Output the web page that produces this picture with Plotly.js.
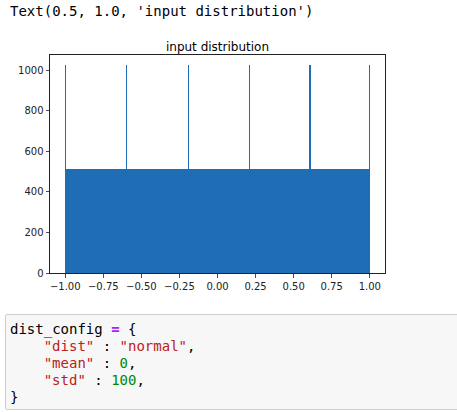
<!DOCTYPE html>
<html>
<head>
<meta charset="utf-8">
<script src="https://cdn.plot.ly/plotly-3.0.1.min.js"></script>
<style>
  html, body { margin:0; padding:0; background:#fff; width:457px; height:412px; overflow:hidden; }
  #out { position:absolute; left:10px; top:3px; font-family:"DejaVu Sans Mono", monospace; font-size:14px; color:#000; white-space:pre; line-height:17px; }
  #chart { position:absolute; left:0; top:0; width:457px; height:300px; }
  #cell { position:absolute; left:5px; top:314px; width:460px; height:96px; background:#f7f7f7; border:1px solid #cfcfcf; border-radius:2px; box-sizing:border-box; }
  .ln { position:absolute; left:10px; font-family:"DejaVu Sans Mono", monospace; font-size:14px; line-height:17px; height:17px; color:#000; white-space:pre; }
  .ind { left:43.7px; }
  .op { color:#AA22FF; font-weight:bold; }
  .s { color:#BA2121; }
  .n { color:#008800; }
</style>
</head>
<body>
<div id="out">Text(0.5, 1.0, 'input distribution')</div>
<div id="chart"></div>
<div id="cell"></div>
<div class="ln" style="top:321px;"><span>dist_config </span><span class="op">=</span><span> {</span></div>
<div class="ln ind" style="top:338px;"><span class="s">"dist"</span><span> : </span><span class="s">"normal"</span><span>,</span></div>
<div class="ln ind" style="top:355px;"><span class="s">"mean"</span><span> : </span><span class="n">0</span><span>,</span></div>
<div class="ln ind" style="top:372px;"><span class="s">"std"</span><span> : </span><span class="n">100</span><span>,</span></div>
<div class="ln" style="top:389px;"><span>}</span></div>
<script>
// Histogram flat segments (bin ranges and counts)
const segStart = [-1.0, -0.6, -0.2, 0.2, 0.6];
const segEnd   = [-0.6, -0.2, 0.2, 0.6, 1.0];
const segCount = [512, 512, 512, 512, 512];
// Spike bins (narrow bins with double count)
const spikeLeft  = [-1.0, -0.599, -0.197, 0.205, 0.603, 0.993];
const spikeRight = [-0.993, -0.592, -0.190, 0.212, 0.616, 1.0];
const spikeCount = [1024, 1024, 1024, 1024, 1024, 1024];
// Tick labels
const xTickVals = [-1.0, -0.75, -0.5, -0.25, 0.0, 0.25, 0.5, 0.75, 1.0];
const xTickText = ["\u22121.00", "\u22120.75", "\u22120.50", "\u22120.25", "0.00", "0.25", "0.50", "0.75", "1.00"];
const yTickVals = [0, 200, 400, 600, 800, 1000];
const yTickText = ["0", "200", "400", "600", "800", "1000"];

const barColor = "#1f6db5";

const segTrace = {
  type: "bar",
  x: segStart.map((s, i) => (s + segEnd[i]) / 2),
  width: segStart.map((s, i) => segEnd[i] - s),
  y: segCount,
  marker: { color: barColor, line: { width: 0 } },
  hoverinfo: "skip"
};
const spikeTrace = {
  type: "bar",
  x: spikeLeft.map((s, i) => (s + spikeRight[i]) / 2),
  width: spikeLeft.map((s, i) => spikeRight[i] - s),
  y: spikeCount,
  marker: { color: barColor, line: { width: 0 } },
  hoverinfo: "skip"
};

const axisCommon = {
  showline: true, mirror: true, linecolor: "#222", linewidth: 1,
  ticks: "outside", ticklen: 3.5, tickwidth: 0.8, tickcolor: "#222",
  showgrid: false, zeroline: false,
  tickfont: { family: "DejaVu Sans", size: 10, color: "#222" },
  tickmode: "array", fixedrange: true
};

const layout = {
  width: 457, height: 300,
  margin: { l: 50, r: 72, t: 55, b: 27, pad: 0 },
  paper_bgcolor: "rgba(0,0,0,0)", plot_bgcolor: "#fff",
  showlegend: false, barmode: "overlay", bargap: 0,
  title: { text: "input distribution", font: { family: "DejaVu Sans", size: 12, color: "#000" },
           x: 0.5, xref: "paper", y: 1, yref: "paper", yanchor: "bottom", pad: { b: 4 } },
  xaxis: Object.assign({}, axisCommon, { range: [-1.1, 1.1], tickvals: xTickVals, ticktext: xTickText }),
  yaxis: Object.assign({}, axisCommon, { range: [0, 1075.2], tickvals: yTickVals, ticktext: yTickText })
};

Plotly.newPlot("chart", [segTrace, spikeTrace], layout, { displayModeBar: false, staticPlot: true });
</script>
</body>
</html>
